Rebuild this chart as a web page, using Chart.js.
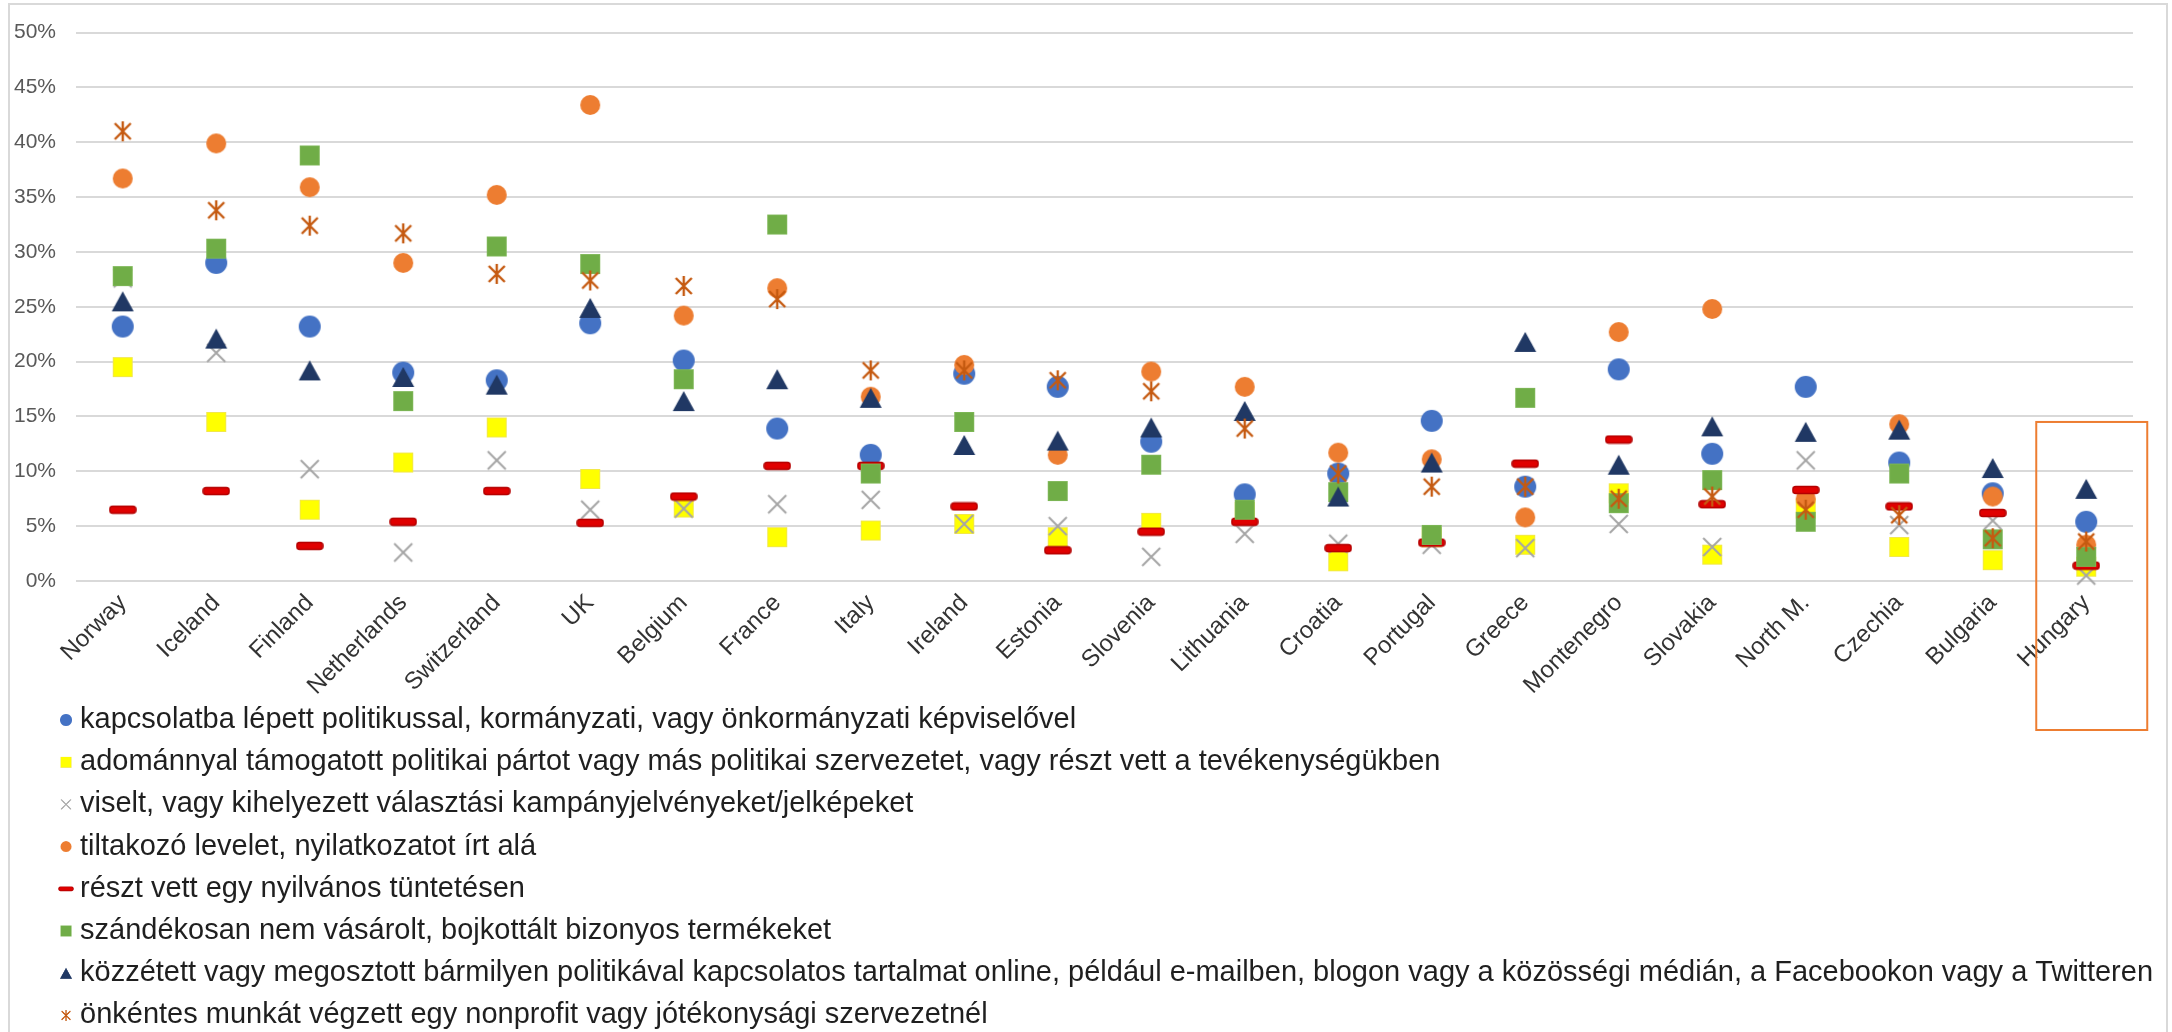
<!DOCTYPE html>
<html>
<head>
<meta charset="utf-8">
<title>Politikai részvétel</title>
<script src="https://cdn.jsdelivr.net/npm/chart.js@4.4.1/dist/chart.umd.min.js"></script>
<style>
  html, body { margin: 0; padding: 0; background: #fff; }
  .wrap { position: relative; width: 2172px; height: 1032px; overflow: hidden; }
  .frame { position: absolute; left: 8px; top: 3px; width: 2160px; height: 1060px;
           border: 2px solid #d9d9d9; box-sizing: border-box; pointer-events: none; }
</style>
</head>
<body>
<div class="wrap">
  <canvas id="chart" width="2172" height="1032"></canvas>
  <div class="frame"></div>
</div>
<script>
const countries = ['Norway', 'Iceland', 'Finland', 'Netherlands', 'Switzerland', 'UK', 'Belgium',
  'France', 'Italy', 'Ireland', 'Estonia', 'Slovenia', 'Lithuania', 'Croatia', 'Portugal', 'Greece',
  'Montenegro', 'Slovakia', 'North M.', 'Czechia', 'Bulgaria', 'Hungary'];

const yTickLabels = ['0%', '5%', '10%', '15%', '20%', '25%', '30%', '35%', '40%', '45%', '50%'];

// values in percent
const contacted = [23.2, 29.0, 23.2, 19.0, 18.3, 23.5, 20.1, 13.9, 11.5, 18.9, 17.7, 12.7, 7.9, 9.8, 14.6, 8.6, 19.3, 11.6, 17.7, 10.8, 8.0, 5.4];
const donated = [19.5, 14.5, 6.5, 10.8, 14.0, 9.3, 6.7, 4.0, 4.6, 5.2, 4.0, 5.3, 6.3, 1.8, 4.0, 3.3, 8.0, 2.4, 6.6, 3.1, 1.9, 1.3];
const badges = [27.6, 20.8, 10.2, 2.6, 11.0, 6.5, 6.6, 7.0, 7.4, 5.2, 5.0, 2.2, 4.3, 3.4, 3.3, 3.0, 5.2, 3.1, 11.0, 5.1, 5.5, 0.5];
const petition = [36.7, 39.9, 35.9, 29.0, 35.2, 43.4, 24.2, 26.7, 16.8, 19.7, 11.5, 19.1, 17.7, 11.7, 11.1, 5.8, 22.7, 24.8, 7.5, 14.3, 7.7, 3.3];
const demonstration = [6.5, 8.2, 3.2, 5.4, 8.2, 5.3, 7.7, 10.5, 10.5, 6.8, 2.8, 4.5, 5.4, 3.0, 3.5, 10.7, 12.9, 7.0, 8.3, 6.8, 6.2, 1.4];
const boycott = [27.8, 30.3, 38.8, 16.4, 30.5, 28.9, 18.4, 32.5, 9.8, 14.5, 8.2, 10.6, 6.5, 8.1, 4.2, 16.7, 7.1, 9.2, 5.4, 9.8, 3.8, 2.2];
const postedOnline = [25.5, 22.1, 19.2, 18.6, 17.9, 24.9, 16.4, 18.4, 16.7, 12.4, 12.8, 14.0, 15.5, 7.7, 10.8, 21.8, 10.6, 14.1, 13.6, 13.8, 10.3, 8.4];
const volunteered = [41.0, 33.8, 32.4, 31.7, 28.0, 27.4, 26.9, 25.7, 19.2, 19.2, 18.3, 17.3, 13.9, 9.8, 8.6, 8.6, 7.5, 7.7, 6.5, 6.0, 3.9, 3.6];

const labels = [
  'kapcsolatba lépett politikussal, kormányzati, vagy önkormányzati képviselővel',
  'adománnyal támogatott politikai pártot vagy más politikai szervezetet, vagy részt vett a tevékenységükben',
  'viselt, vagy kihelyezett választási kampányjelvényeket/jelképeket',
  'tiltakozó levelet, nyilatkozatot írt alá',
  'részt vett egy nyilvános tüntetésen',
  'szándékosan nem vásárolt, bojkottált bizonyos termékeket',
  'közzétett vagy megosztott bármilyen politikával kapcsolatos tartalmat online, például e-mailben, blogon vagy a közösségi médián, a Facebookon vagy a Twitteren',
  'önkéntes munkát végzett egy nonprofit vagy jótékonysági szervezetnél'
];

const highlightCountry = 'Hungary';

// small canvases used as point styles (Excel-like markers)
function marker(w, h, draw) {
  const c = document.createElement('canvas');
  c.width = w;
  c.height = h;
  draw(c.getContext('2d'));
  return c;
}

const circle = (color, r) => marker(2 * r + 2, 2 * r + 2, ctx => {
  ctx.fillStyle = color;
  ctx.beginPath();
  ctx.arc(r + 1, r + 1, r, 0, Math.PI * 2);
  ctx.fill();
});

const square = (color, edge) => marker(22, 22, ctx => {
  ctx.fillStyle = color;
  ctx.fillRect(1, 1, 20, 20);
  ctx.strokeStyle = edge;
  ctx.lineWidth = 1;
  ctx.strokeRect(1.5, 1.5, 19, 19);
});

const markers = [
  circle('#4472c4', 11),
  square('#ffff00', '#f2e84a'),
  marker(22, 22, ctx => {
    ctx.strokeStyle = '#a5a5a5';
    ctx.lineWidth = 2;
    ctx.beginPath();
    ctx.moveTo(2, 2); ctx.lineTo(20, 20);
    ctx.moveTo(20, 2); ctx.lineTo(2, 20);
    ctx.stroke();
  }),
  circle('#ed7d31', 10),
  marker(28, 10, ctx => {
    ctx.fillStyle = '#e00000';
    ctx.strokeStyle = '#b40000';
    ctx.lineWidth = 1.5;
    ctx.beginPath();
    ctx.roundRect(1, 1.5, 26, 7, 3);
    ctx.fill();
    ctx.stroke();
  }),
  square('#70ad47', '#7cb655'),
  marker(24, 22, ctx => {
    ctx.fillStyle = '#203864';
    ctx.beginPath();
    ctx.moveTo(12, 1); ctx.lineTo(23, 21); ctx.lineTo(1, 21);
    ctx.closePath();
    ctx.fill();
  }),
  marker(22, 22, ctx => {
    ctx.strokeStyle = '#c55a11';
    ctx.lineWidth = 2.4;
    ctx.beginPath();
    ctx.moveTo(3, 3); ctx.lineTo(19, 19);
    ctx.moveTo(19, 3); ctx.lineTo(3, 19);
    ctx.moveTo(11, 1); ctx.lineTo(11, 21);
    ctx.stroke();
  })
];

const values = [contacted, donated, badges, petition, demonstration, boycott, postedOnline, volunteered];

// legend, one item per row, plus the orange frame round Hungary
const extras = {
  id: 'extras',
  afterDraw(chart) {
    const { ctx, chartArea } = chart;
    const xs = chart.scales.x;
    const ys = chart.scales.y;
    ctx.save();
    ctx.font = '29px "Liberation Sans", Arial, sans-serif';
    ctx.textBaseline = 'middle';
    ctx.textAlign = 'left';
    chart.data.datasets.forEach((ds, i) => {
      const y = chartArea.bottom + 139 + i * 42.2;
      const img = ds.pointStyle;
      const w = img.width * 0.55, h = img.height * 0.55;
      ctx.drawImage(img, 66 - w / 2, y - h / 2, w, h);
      ctx.fillStyle = '#1f1f1f';
      ctx.fillText(ds.label, 80, y);
    });

    const xc = xs.getPixelForValue(countries.indexOf(highlightCountry));
    const top = ys.getPixelForValue(14.5);
    ctx.strokeStyle = '#ed7d31';
    ctx.lineWidth = 2;
    ctx.strokeRect(xc - 50, top, 111, chartArea.bottom + 149 - top);
    ctx.restore();
  }
};

Chart.defaults.font.family = '"Liberation Sans", Arial, sans-serif';

new Chart(document.getElementById('chart'), {
  type: 'line',
  data: {
    labels: countries,
    datasets: values.map((data, i) => ({
      label: labels[i],
      data,
      showLine: false,
      pointStyle: markers[i],
      pointRadius: 10,
      pointHoverRadius: 10,
      clip: false,
      order: values.length - i
    }))
  },
  options: {
    responsive: false,
    animation: false,
    layout: { padding: { left: 0, right: 39, top: 31, bottom: 331 } },
    plugins: {
      legend: { display: false },
      tooltip: { enabled: false }
    },
    scales: {
      x: {
        offset: true,
        grid: { display: false, drawTicks: false },
        border: { display: false },
        ticks: {
          autoSkip: false,
          minRotation: 45,
          maxRotation: 45,
          padding: 8,
          color: '#333333',
          font: { size: 24 }
        },
        afterFit: s => { s.height = 120; }
      },
      y: {
        min: 0,
        max: 50,
        grid: { color: '#d9d9d9', lineWidth: 2, drawTicks: false },
        border: { display: false },
        ticks: {
          stepSize: 5,
          padding: 20,
          color: '#595959',
          font: { size: 21 },
          callback: (v, i) => yTickLabels[i]
        },
        afterFit: s => { s.width = 76; }
      }
    }
  },
  plugins: [extras]
});
</script>
</body>
</html>
